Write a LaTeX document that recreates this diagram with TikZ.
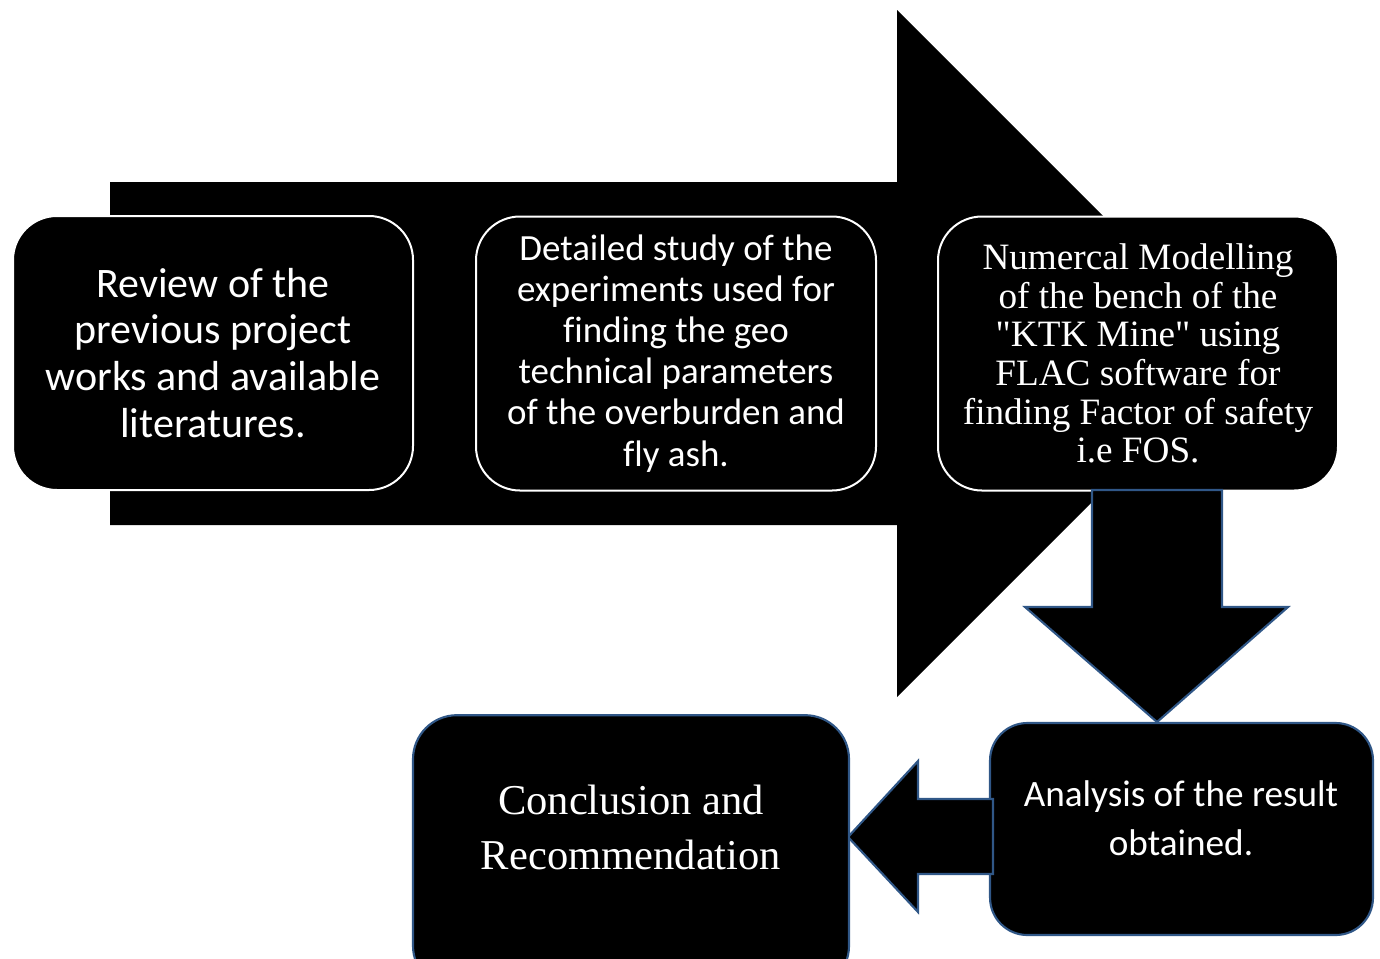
\documentclass[tikz,border=0pt]{standalone}
\usepackage{fontspec}
\setmainfont{Liberation Serif}
\newfontfamily\calibrifont[Ligatures=NoCommon]{Carlito}
\definecolor{myframe}{rgb}{0.19,0.34,0.53}

\begin{document}
\begin{tikzpicture}[x=0.75pt,y=-0.75pt,
  stepbox/.style={draw=white,line width=1.5pt,fill=black,rounded corners=33pt,
    minimum width=300pt,minimum height=205.5pt,inner sep=0pt},
  bluebox/.style={draw=myframe,line width=1.6pt,fill=black,rounded corners=28pt,inner sep=0pt},
  boxtext/.style={text=white,align=center,inner sep=0pt},
  blockarrow/.style={draw=myframe,line width=1.6pt,fill=black,line join=miter}]
  \useasboundingbox (0,0) rectangle (1380,958);
  % big process arrow behind the three steps
  \fill[black] (110,182) -- (897,182) -- (897,10) -- (1240.5,353.5)
    -- (897,697) -- (897,525) -- (110,525) -- cycle;
  \node[stepbox,boxtext,font=\calibrifont\fontsize{31.5pt}{35.2pt}\selectfont] (review) at (213,353)
    {Review of the\\previous project\\works and available\\literatures.};
  \node[stepbox,boxtext,font=\calibrifont\fontsize{27.7pt}{30.8pt}\selectfont] (study) at (676,353.5)
    {Detailed study of the\\experiments used for\\finding the geo\\technical parameters\\of the overburden and\\fly ash.};
  \node[stepbox,boxtext,font=\fontsize{27.9pt}{29pt}\selectfont] (model) at (1138,353.5)
    {Numercal Modelling\\of the bench of the\\\textquotedbl KTK Mine\textquotedbl{} using\\FLAC software for\\finding Factor of safety\\i.e FOS.};
  % down arrow into the result box
  \draw[blockarrow] (1092,490) -- (1222,490) -- (1222,607) -- (1288,607)
    -- (1157,722) -- (1025,607) -- (1092,607) -- cycle;
  \node[bluebox,minimum width=287.2pt,minimum height=159pt] (result) at (1181.5,829) {};
    \node[boxtext,font=\calibrifont\fontsize{27.9pt}{36.8pt}\selectfont] (resulttext) at (1181,818)
      {Analysis of the result\\obtained.};
  % left arrow into the last box
  \draw[blockarrow] (993,799) -- (918,799) -- (918,761) -- (848,837)
    -- (918,912) -- (918,874) -- (993,874) -- cycle;
  \node[bluebox,rounded corners=33pt,minimum width=327pt,minimum height=206pt] (concl) at (631,852.5) {};
    \node[boxtext,font=\fontsize{31.9pt}{41.2pt}\selectfont] (concltext) at (631,827)
      {Conclusion and\\Recommendation};
\end{tikzpicture}
\end{document}
